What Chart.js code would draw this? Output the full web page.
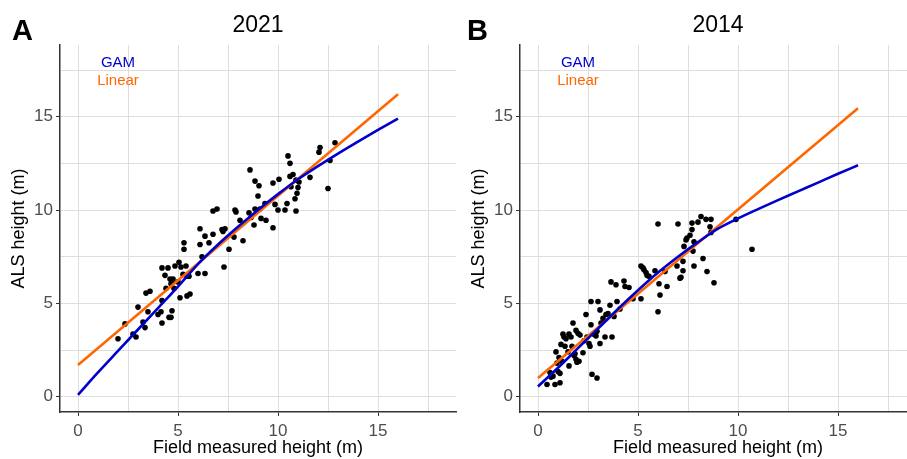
<!DOCTYPE html>
<html>
<head>
<meta charset="utf-8">
<script src="https://cdn.jsdelivr.net/npm/chart.js@4"></script>
<style>
  html, body { margin:0; padding:0; background:#fff; overflow:hidden; }
  #wrap { position:relative; width:907px; height:459px; overflow:hidden; }
  .panel { position:absolute; top:0; }
</style>
</head>
<body>
<div id="wrap">
  <canvas id="panelA" class="panel" width="460" height="459" style="left:0"></canvas>
  <canvas id="panelB" class="panel" width="460" height="459" style="left:460px"></canvas>
</div>
<script>
/* ---------- data ---------- */

// panel A, 2021: [field height, ALS height]
const pointsA = [
  [2.0,3.1],[2.35,3.9],[2.75,3.35],[2.9,3.2],[3.0,4.8],[3.25,4.0],[3.35,3.7],[3.4,5.55],[3.6,5.65],
  [3.5,4.55],[4.0,4.4],[4.15,4.55],[4.2,3.95],[4.2,5.15],[4.2,6.9],[4.5,6.9],[4.55,4.25],[4.65,4.25],
  [4.7,4.6],[4.4,5.8],[4.6,6.3],[4.7,6.2],[4.75,6.3],[4.8,5.8],[4.65,6.05],[4.85,7.0],[5.05,7.2],
  [5.15,6.95],[5.1,5.3],[5.25,6.55],[5.4,7.0],[5.45,6.45],[5.55,6.45],[5.45,5.4],[5.6,5.5],[5.3,8.25],
  [5.3,7.9],[6.0,6.6],[6.35,6.6],[6.1,9.0],[6.1,8.15],[6.35,8.6],[6.55,8.25],[6.75,8.7],[7.2,8.95],
  [7.3,6.95],[7.25,8.85],[7.35,9.0],[7.55,7.9],[6.75,9.95],[6.95,10.05],[7.8,8.55],[7.85,10.0],
  [7.9,9.9],[8.1,9.45],[8.25,8.35],[8.55,9.85],[8.6,12.15],[8.65,9.6],[8.8,9.2],[8.85,10.05],
  [8.85,11.55],[9.05,11.3],[9.0,10.75],[9.1,10.05],[9.15,9.55],[9.35,10.35],[9.4,9.45],[9.75,9.05],
  [9.85,10.3],[9.75,11.45],[10.05,11.65],[10.0,10.0],[10.35,10.0],[10.45,10.35],[10.5,12.9],
  [10.6,12.5],[10.6,11.8],[10.65,11.25],[10.75,11.9],[10.85,10.6],[10.9,9.95],[10.95,10.9],
  [11.0,11.2],[11.05,11.5],[10.9,11.6],[11.6,11.75],[12.05,13.1],[12.1,13.35],[12.5,11.15],
  [12.6,12.65],[12.85,13.6],[4.35,6.5],[5.0,6.15],[6.2,7.5]
];

// panel B, 2014
const pointsB = [
  [0.45,0.65],[0.6,1.3],[0.65,1.05],[0.85,0.65],[0.9,2.4],[0.95,1.8],[1.0,1.35],[1.1,1.25],[1.1,0.75],
  [1.15,2.8],[1.2,1.9],[1.25,3.35],[1.3,3.2],[1.35,2.7],[1.4,3.1],[1.5,2.4],[1.55,1.65],[1.55,3.35],
  [1.65,3.2],[1.7,2.7],[1.75,3.95],[1.8,2.2],[1.85,2.3],[1.9,2.0],[1.95,1.85],[2.05,1.9],[1.9,3.55],
  [2.0,3.4],[2.1,3.3],[2.25,2.35],[2.4,4.4],[2.45,3.2],[2.55,2.85],[2.65,5.1],[2.65,3.85],[2.7,1.2],
  [2.6,2.7],[2.8,3.35],[2.9,3.25],[2.95,1.0],[2.95,3.5],[3.0,5.1],[3.1,4.65],[3.1,2.85],[3.15,3.95],
  [3.25,4.2],[3.35,3.2],[3.4,4.4],[3.5,4.45],[3.6,4.9],[3.65,6.15],[3.7,3.2],[3.9,6.0],[3.95,5.1],
  [4.1,4.7],[4.3,6.2],[4.35,5.9],[4.55,5.85],[4.75,5.25],[5.15,5.25],[5.15,7.0],[5.25,6.9],[5.3,6.8],
  [5.4,6.65],[5.45,6.5],[5.55,6.45],[5.85,6.75],[6.0,9.25],[6.0,4.55],[6.05,6.05],[6.1,5.45],
  [6.35,6.7],[6.45,5.9],[6.95,7.0],[7.0,9.25],[7.1,6.35],[7.15,6.4],[7.25,6.75],[7.25,7.25],
  [7.3,8.05],[7.4,8.4],[7.45,8.5],[7.6,8.65],[7.7,8.95],[7.7,9.3],[7.8,8.3],[7.75,7.8],[7.8,7.0],
  [8.0,9.35],[8.15,9.65],[8.25,7.4],[8.4,9.5],[8.65,9.5],[8.45,6.7],[8.6,9.1],[8.65,8.8],[8.8,6.1],
  [9.9,9.5],[10.7,7.9],[0.75,1.1],[1.05,2.1],[2.3,3.0],[3.8,4.3]
];

// fitted curves
const curveX = [0,1,2,3,4,5,6,7,8,9,10,11,12,13,14,15,16];
const gamA   = [0.1,1.3,2.45,3.6,4.75,5.9,7.1,8.15,9.1,10.0,10.85,11.65,12.35,13.02,13.66,14.29,14.9];
const gamB   = [0.55,1.55,2.6,3.65,4.7,5.7,6.65,7.5,8.28,9.0,9.55,10.05,10.53,11.0,11.47,11.94,12.4];
const lineX  = [0,16];
const linearA = [1.7,16.2];
const linearB = [1.0,15.45];

const xTicks = [0,5,10,15];
const yTicks = [0,5,10,15];

/* ---------- look ---------- */
const BLUE = "#0000CD", ORANGE = "#FF6600", GRID = "#dedede", AXIS = "#333333";
Chart.defaults.font.family = "'Liberation Sans', Arial, sans-serif";

const toXY = (xs, ys) => xs.map((x, i) => ({ x, y: ys[i] }));

// panel letter, year title and the GAM / Linear labels
const decor = {
  id: 'decor',
  afterDraw(chart, args, opts) {
    const { ctx, chartArea, scales } = chart;
    ctx.save();
    ctx.fillStyle = '#000';
    ctx.textBaseline = 'alphabetic';
    ctx.textAlign = 'left';
    ctx.font = "bold 29px 'Liberation Sans', Arial, sans-serif";
    ctx.fillText(opts.letter, opts.letterX, 40);

    ctx.textAlign = 'center';
    ctx.textBaseline = 'middle';
    ctx.font = "23px 'Liberation Sans', Arial, sans-serif";
    ctx.fillText(opts.year, (chartArea.left + chartArea.right) / 2, 26);

    ctx.font = "15px 'Liberation Sans', Arial, sans-serif";
    ctx.fillStyle = BLUE;
    ctx.fillText('GAM', scales.x.getPixelForValue(2), scales.y.getPixelForValue(17.9));
    ctx.fillStyle = ORANGE;
    ctx.fillText('Linear', scales.x.getPixelForValue(2), scales.y.getPixelForValue(16.9));
    ctx.restore();
  }
};

function axis(min, max, ticksAt, title, horizontal) {
  return {
    type: 'linear',
    min, max,
    afterFit: s => { if (horizontal) s.height = 47; else s.width = 60; },
    ticks: {
      stepSize: 2.5,
      includeBounds: false,
      autoSkip: false,
      maxRotation: 0,
      color: '#4d4d4d',
      font: { size: 17 },
      padding: horizontal ? 5 : 3,
      callback: v => ticksAt.includes(v) ? String(v) : ''
    },
    grid: {
      color: GRID,
      lineWidth: 1,
      tickLength: 4,
      tickColor: c => (c.tick && ticksAt.includes(c.tick.value)) ? AXIS : 'rgba(0,0,0,0)'
    },
    border: { display: true, color: AXIS, width: 1.5 },
    title: {
      display: true,
      text: title,
      color: '#000',
      font: { size: 18 },
      padding: horizontal ? { top: 0, bottom: 0 } : { top: 8, bottom: 0 }
    }
  };
}

function panel(id, points, gam, linear, letter, letterX, year) {
  new Chart(document.getElementById(id), {
    type: 'scatter',
    data: {
      datasets: [
        { data: toXY(curveX, gam), showLine: true, borderColor: BLUE, borderWidth: 2.6,
          pointRadius: 0, tension: 0.4, cubicInterpolationMode: 'monotone', order: 0 },
        { data: toXY(lineX, linear), showLine: true, borderColor: ORANGE, borderWidth: 2.6,
          pointRadius: 0, order: 1 },
        { data: points.map(p => ({ x: p[0], y: p[1] })), backgroundColor: '#000',
          borderWidth: 0, pointRadius: 2.8, order: 2 }
      ]
    },
    options: {
      responsive: false,
      animation: false,
      layout: { padding: { top: 45, right: 4, left: 0, bottom: 0 } },
      plugins: {
        legend: { display: false },
        tooltip: { enabled: false },
        decor: { letter, letterX, year }
      },
      scales: {
        x: axis(-0.9, 18.9, xTicks, 'Field measured height (m)', true),
        y: axis(-0.82, 18.84, yTicks, 'ALS height (m)', false)
      }
    },
    plugins: [decor]
  });
}

panel('panelA', pointsA, gamA, linearA, 'A', 12, '2021');
panel('panelB', pointsB, gamB, linearB, 'B', 7, '2014');
</script>
</body>
</html>
